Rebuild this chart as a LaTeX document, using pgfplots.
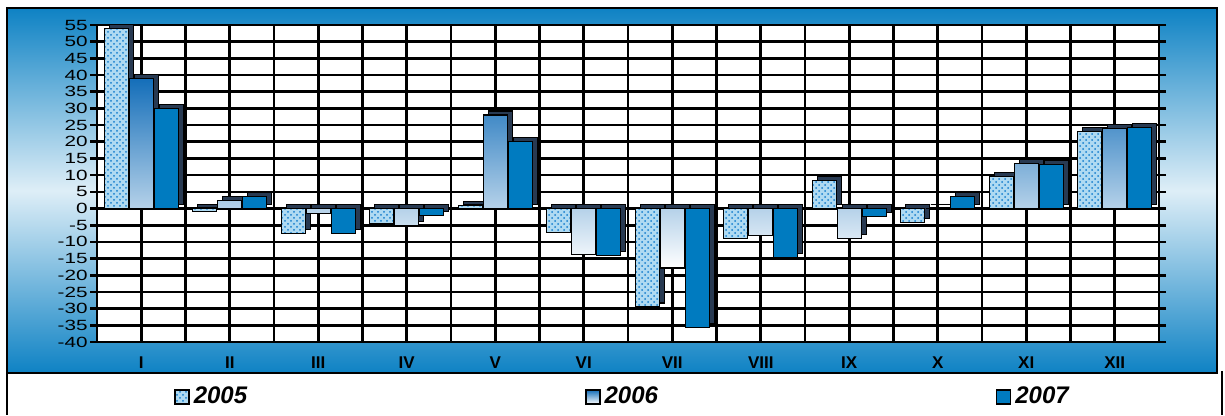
\documentclass[border=0pt]{standalone}
\usepackage{fontspec}
\setmainfont{Liberation Sans}
\newfontfamily\tickfont[FakeStretch=1.4]{Liberation Sans}
\usepackage{pgfplots}
\pgfplotsset{compat=1.18}
\usepackage{pgfplotstable}
\usetikzlibrary{patterns}
\definecolor{frameblue}{RGB}{14,130,196}
\definecolor{lightbg}{RGB}{222,238,247}
\definecolor{c05}{RGB}{175,218,242}
\definecolor{c05dot}{RGB}{20,125,205}
\definecolor{c06}{RGB}{20,110,185}
\definecolor{c07}{RGB}{0,123,192}
\definecolor{depthc}{RGB}{40,58,82}
\pgfplotstableread{
x y2005 y2006 y2007
1 54 39 30
2 -1 2.5 3.5
3 -7.5 -1.5 -7.5
4 -4.5 -5 -2
5 0.8 28 20
6 -7.2 -13.8 -14
7 -29.5 -17.8 -35.6
8 -9 -8.2 -14.7
9 8.5 -9 -2.5
10 -4.3 0 3.7
11 9.5 13.5 13.2
12 23 24 24.2
}\datatable
\begin{document}
\begin{tikzpicture}
\begin{scope}[x=0.5pt,y=0.5pt]
\fill[white] (0,0) rectangle (1225,415);
\shade[top color=frameblue, bottom color=frameblue, middle color=lightbg] (7,42) rectangle (1217,407);
\draw[line width=1pt] (7,42) rectangle (1217,407);
\draw[line width=1pt] (7,42) -- (7,0);
\draw[line width=0.6pt] (1222,44) -- (1222,0);
\end{scope}
\begin{axis}[
  at={(48.5pt,36.5pt)}, anchor=south west,
  scale only axis, width=531pt, height=158.5pt,
  xmin=0.5, xmax=12.5, ymin=-40, ymax=55,
  ytick={-40,-35,...,55},
  xtick={1,...,12},
  xticklabels={I,II,III,IV,V,VI,VII,VIII,IX,X,XI,XII},
  minor xtick={0.5,1.5,...,12.5},
  xmajorgrids, xminorgrids, ymajorgrids,
  grid style={black, line width=1.3pt},
  major grid style={black, line width=1.3pt},
  minor grid style={black, line width=1.3pt},
  axis line style={black, line width=1.3pt},
  axis background/.style={fill=white},
  tick align=outside,
  ytick style={black, line width=1.3pt},
  major tick length=3.5pt,
  xtick style={draw=none},
  minor tick style={draw=none},
  yticklabel style={font=\tickfont\fontsize{7.4}{8}\selectfont, inner sep=1pt},
  xticklabel style={font=\bfseries\fontsize{8.5}{10}\selectfont, yshift=-0.5pt},
  /pgf/number format/assume math mode=true,
  clip=false,
  ybar, bar width=12pt,
  legend columns=3,
  legend style={at={(0.0725,-0.1735)}, anchor=west, draw=none, fill=none, inner sep=0pt,
    font=\bfseries\itshape\fontsize{12}{13}\selectfont,
    /tikz/every even column/.append style={column sep=167pt}},
  legend image code/.code={\draw[#1, draw=black, line width=0.7pt] (0pt,-3.5pt) rectangle (7pt,3.5pt);},
]
\addplot[forget plot, bar shift=-12.5pt, xshift=2.5pt, yshift=2pt, fill=depthc, draw=black, line width=0.6pt] table[x=x,y=y2005] {\datatable};
\addplot[bar shift=-12.5pt, fill=c05, draw=black, line width=0.6pt, postaction={pattern=crosshatch dots, pattern color=c05dot}] table[x=x,y=y2005] {\datatable};
\addlegendentry{2005}
\addplot[forget plot, bar shift=0pt, xshift=2.5pt, yshift=2pt, fill=depthc, draw=black, line width=0.6pt] table[x=x,y=y2006] {\datatable};
\addplot[bar shift=0pt, top color=c06, bottom color=white, draw=black, line width=0.6pt] table[x=x,y=y2006] {\datatable};
\addlegendentry{2006}
\addplot[forget plot, bar shift=12.5pt, xshift=2.5pt, yshift=2pt, fill=depthc, draw=black, line width=0.6pt] table[x=x,y=y2007] {\datatable};
\addplot[bar shift=12.5pt, fill=c07, draw=black, line width=0.6pt] table[x=x,y=y2007] {\datatable};
\addlegendentry{2007}
\end{axis}
\end{tikzpicture}
\end{document}
